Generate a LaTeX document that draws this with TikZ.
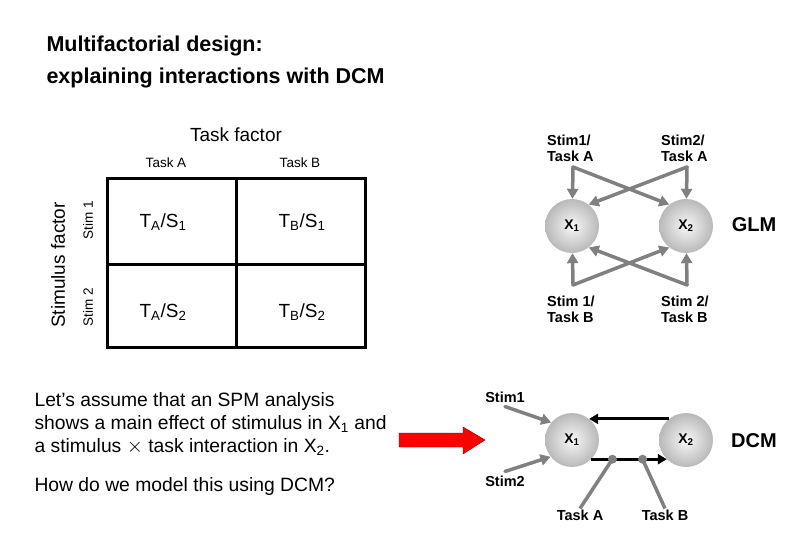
\documentclass[tikz,border=0pt]{standalone}
\usepackage{fontspec}
\setmainfont{Liberation Sans}
\usetikzlibrary{arrows.meta}
\definecolor{arrowgray}{RGB}{128,128,128}
\tikzset{
  region/.style={circle,minimum size=54pt,inner sep=0pt,inner color=gray!6,outer color=gray!55,font=\fontsize{14}{14}\selectfont\bfseries},
  inlabel/.style={font=\fontsize{14.5}{16}\selectfont\bfseries,align=left,inner sep=1pt},
  garrow/.style={line width=3.5pt,arrowgray,line cap=round,-{Triangle[length=10pt,width=11pt]}},
  barrow/.style={line width=3pt,black,-{Triangle[length=9pt,width=10pt]}},
  modline/.style={line width=3.5pt,arrowgray},
  cell/.style={font=\fontsize{19}{19}\selectfont},
  small/.style={font=\fontsize{13.5}{13.5}\selectfont},
  big/.style={font=\fontsize{19}{19}\selectfont},
  model/.style={font=\fontsize{20}{20}\selectfont\bfseries},
}
\begin{document}
\begin{tikzpicture}[x=1pt,y=-1pt]
  \useasboundingbox (0,0) rectangle (810,540);
  \node[anchor=west,align=left,font=\fontsize{21.5}{32}\selectfont\bfseries] (title) at (43,62) {Multifactorial design:\\explaining interactions with DCM}; %titel

  %faktor-tabel
  \draw[line width=3pt] (107,178) rectangle (365,347);
  \draw[line width=3pt] (236,178)--(236,347);
  \draw[line width=3pt] (107,264)--(365,264);
  \node[big] (taskfactor) at (236,135) {Task factor};
  \node[small] (taska) at (166,163) {Task A};
  \node[small] (taskb) at (300,163) {Task B};
  \node[big,rotate=90] (stimfactor) at (58,265) {Stimulus factor};
  \node[small,rotate=90] (stim1) at (88,220) {Stim 1};
  \node[small,rotate=90] (stim2) at (88,307) {Stim 2};
  \node[cell] (ta1) at (163,222) {T\textsubscript{A}/S\textsubscript{1}};
  \node[cell] (tb1) at (302,222) {T\textsubscript{B}/S\textsubscript{1}};
  \node[cell] (ta2) at (163,312) {T\textsubscript{A}/S\textsubscript{2}};
  \node[cell] (tb2) at (302,312) {T\textsubscript{B}/S\textsubscript{2}};

  %tekst
  \node[anchor=west,align=left,font=\fontsize{19.3}{23}\selectfont] (assume) at (31,424) {Let’s assume that an SPM analysis\\shows a main effect of stimulus in X\textsubscript{1} and\\a stimulus $\times$ task interaction in X\textsubscript{2}.};
  \node[anchor=west,font=\fontsize{19.3}{23}\selectfont] (question) at (31,487) {How do we model this using DCM?};
  \filldraw[fill=red,draw=red!45!black,thin] (399,433)--(463,433)--(463,427)--(485,440)--(463,454)--(463,447)--(399,447)--cycle; %rød pil

  %GLM
  \node[region] (g1) at (572,226) {X\textsubscript{1}};
  \node[region] (g2) at (686,226) {X\textsubscript{2}};
  \node[model] (glm) at (754,225) {GLM};
  \node[inlabel,anchor=west] (s1a) at (546,148) {Stim1/\\Task A};
  \node[inlabel,anchor=west] (s2a) at (660,148) {Stim2/\\Task A};
  \node[inlabel,anchor=west] (s1b) at (546,309) {Stim 1/\\Task B};
  \node[inlabel,anchor=west] (s2b) at (660,309) {Stim 2/\\Task B};
  \coordinate (j1a) at (573,167);
  \coordinate (j2a) at (687,167);
  \coordinate (j1b) at (573,285);
  \coordinate (j2b) at (687,285);
  \draw[garrow] (j1a)--(g1);
  \draw[garrow] (j1a)--(g2.128);
  \draw[garrow] (j2a)--(g2);
  \draw[garrow] (j2a)--(g1.52);
  \draw[garrow] (j1b)--(g1);
  \draw[garrow] (j1b)--(g2.232);
  \draw[garrow] (j2b)--(g2);
  \draw[garrow] (j2b)--(g1.308);

  %DCM
  \node[region] (d1) at (572,440) {X\textsubscript{1}};
  \node[region] (d2) at (686,440) {X\textsubscript{2}};
  \node[model] (dcm) at (754,441) {DCM};
  \node[inlabel] (in1) at (505,397) {Stim1};
  \node[inlabel] (in2) at (505,481) {Stim2};
  \node[inlabel] (ca) at (580,515) {Task A};
  \node[inlabel] (cb) at (665,515) {Task B};
  \draw[garrow] (in1.south)++(0,3)--(d1.140);
  \draw[garrow] (in2.north)++(0,-3)--(d1.218);
  \draw[barrow] (d2.129)--(d1.51);
  \draw[barrow] (d1.-45)--(d2.-135) coordinate[pos=0.28] (ma) coordinate[pos=0.68] (mb);
  \draw[modline] (ca.north)--(ma);
  \draw[modline] (cb.north)--(mb);
  \fill[arrowgray] (ma) circle (4.5);
  \fill[arrowgray] (mb) circle (4.5);
\end{tikzpicture}
\end{document}
